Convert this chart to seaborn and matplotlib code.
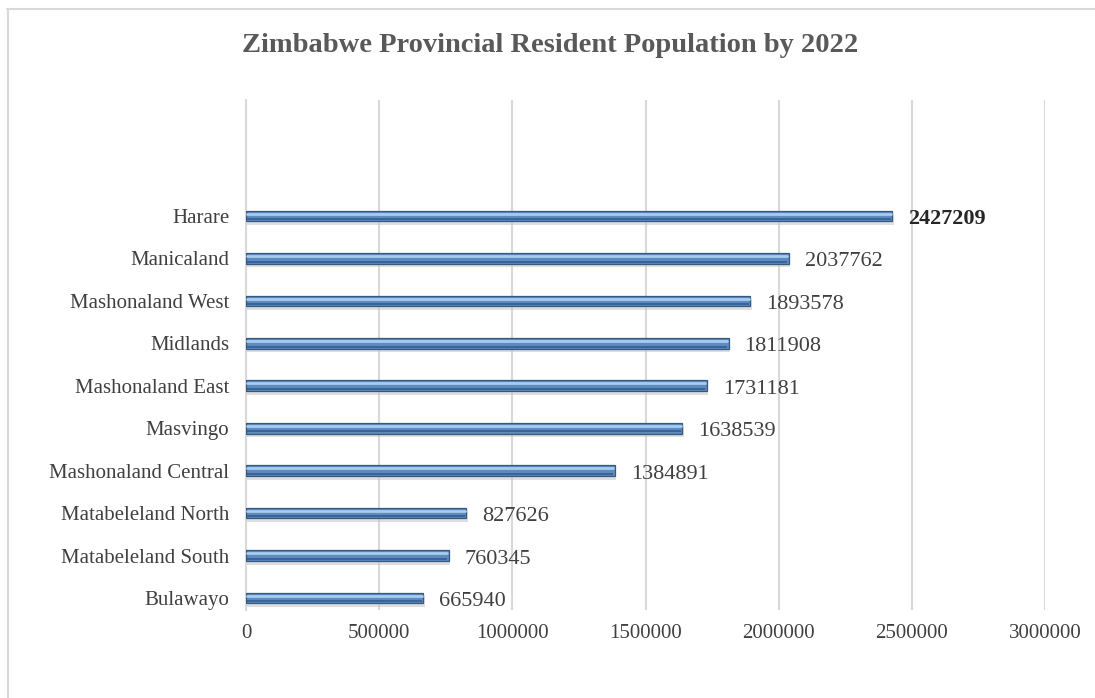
import matplotlib
matplotlib.use("Agg")
import matplotlib.pyplot as plt
import seaborn as sns
import pandas as pd
from matplotlib.lines import Line2D

provinces = ["Harare", "Manicaland", "Mashonaland West", "Midlands", "Mashonaland East",
             "Masvingo", "Mashonaland Central", "Matabeleland North", "Matabeleland South", "Bulawayo"]
population = [2427209, 2037762, 1893578, 1811908, 1731181, 1638539, 1384891, 827626, 760345, 665940]
x_ticks = [0, 500000, 1000000, 1500000, 2000000, 2500000, 3000000]
title = "Zimbabwe Provincial Resident Population by 2022"

df = pd.DataFrame({"province": provinces, "population": population})

sns.set_theme(style="white")
plt.rcParams["font.family"] = ["Liberation Serif", "DejaVu Serif"]

fig = plt.figure(figsize=(10.95, 6.98), dpi=100)
ax = fig.add_axes([246/1095, 1-610/698, (1045-246)/1095, (610-100)/698])

# shadow bars
sns.barplot(data=df, y="province", x="population", orient="h", width=0.26,
            color="#c4c4c4", edgecolor="none", ax=ax, zorder=2)
for p in ax.patches:
    p.set_y(p.get_y() + 0.08)
    p.set_x(p.get_x() + 5000)
    p.set_alpha(0.55)
sns.barplot(data=df, y="province", x="population", orient="h", width=0.25,
            color="#4f89cc", edgecolor="#35587f", linewidth=0.9, ax=ax, zorder=3)
# highlight stripe near top, darker band near bottom (tube look)
for i, v in enumerate(population):
    ax.plot([4000, v - 6000], [i - 0.055, i - 0.055], color="#a7ccf2", lw=2.0,
            solid_capstyle="round", zorder=4)
    ax.plot([4000, v - 6000], [i + 0.075, i + 0.075], color="#36639a", lw=1.4,
            solid_capstyle="butt", zorder=4)

ax.set_xlim(0, 3000000)
ax.set_ylim(9.28, -2.73)
ax.set_xticks(x_ticks)
ax.set_xticklabels([str(t) for t in x_ticks], fontsize=15, color="#404040")
ax.set_yticks(range(len(provinces)))
ax.set_yticklabels(provinces, fontsize=15, color="#404040")
ax.tick_params(axis="x", length=0, pad=10)
ax.tick_params(axis="y", length=0, pad=12)
ax.set_xlabel("")
ax.set_ylabel("")
ax.grid(axis="x", color="#d9d9d9", lw=1.5, zorder=0)
ax.set_axisbelow(True)
for s in ["top", "right", "bottom"]:
    ax.spines[s].set_visible(False)
ax.spines["left"].set_color("#d9d9d9")
ax.spines["left"].set_linewidth(1.5)

for i, v in enumerate(population):
    ax.text(v + 60000, i + 0.08, str(v), va="center", ha="left", fontsize=16,
            color="#262626" if i == 0 else "#404040",
            fontweight="bold" if i == 0 else "normal")

fig.text(550/1095, 1-46/698, title, ha="center", va="center", fontsize=20.5,
         fontweight="bold", color="#595959")

fig.add_artist(Line2D([7/1095, 1], [1-9/698, 1-9/698], color="#d9d9d9", lw=1.5,
                      transform=fig.transFigure))
fig.add_artist(Line2D([8/1095, 8/1095], [0, 1-9/698], color="#d9d9d9", lw=1.5,
                      transform=fig.transFigure))

fig.savefig("out.png", dpi=100, facecolor="white")
